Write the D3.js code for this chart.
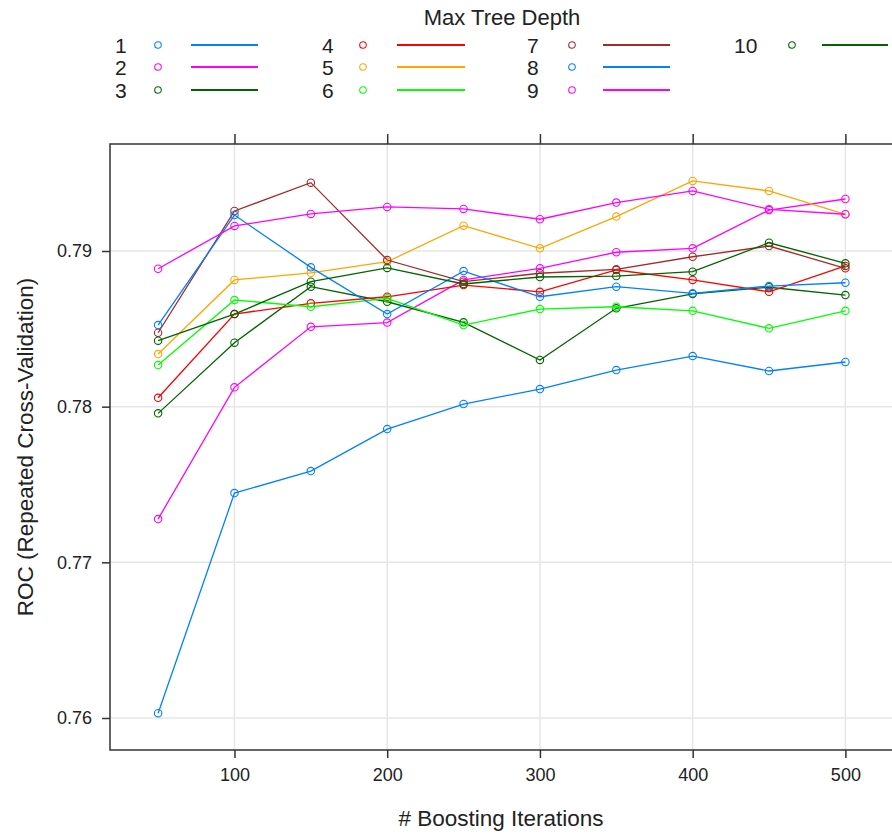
<!DOCTYPE html>
<html>
<head>
<meta charset="utf-8">
<script src="https://cdn.jsdelivr.net/npm/d3@7"></script>
<style>
  body { margin: 0; background: #fff; }
  svg { display: block; font-family: "Liberation Sans", Arial, sans-serif; }
</style>
</head>
<body>
<svg id="chart" width="892" height="834"></svg>
<script>
// boosting iterations on the x axis
var iterations = [50, 100, 150, 200, 250, 300, 350, 400, 450, 500]

// ROC per max tree depth
var depth1  = [0.76031, 0.77445, 0.77586, 0.77856, 0.78017, 0.78113, 0.78235, 0.78325, 0.78229, 0.78287]
var depth2  = [0.77278, 0.78124, 0.78513, 0.78540, 0.78814, 0.78889, 0.78992, 0.79017, 0.79263, 0.79334]
var depth3  = [0.77957, 0.78411, 0.78771, 0.78674, 0.78542, 0.78300, 0.78632, 0.78724, 0.78767, 0.78717]
var depth4  = [0.78057, 0.78595, 0.78664, 0.78706, 0.78781, 0.78738, 0.78878, 0.78814, 0.78738, 0.78904]
var depth5  = [0.78338, 0.78814, 0.78860, 0.78931, 0.79163, 0.79017, 0.79221, 0.79450, 0.79386, 0.79236]
var depth6  = [0.78267, 0.78685, 0.78642, 0.78696, 0.78524, 0.78627, 0.78642, 0.78616, 0.78503, 0.78616]
var depth7  = [0.78475, 0.79257, 0.79439, 0.78942, 0.78803, 0.78857, 0.78882, 0.78963, 0.79032, 0.78889]
var depth8  = [0.78524, 0.79231, 0.78895, 0.78595, 0.78871, 0.78706, 0.78771, 0.78728, 0.78775, 0.78796]
var depth9  = [0.78886, 0.79161, 0.79238, 0.79283, 0.79270, 0.79204, 0.79311, 0.79386, 0.79268, 0.79236]
var depth10 = [0.78424, 0.78595, 0.78803, 0.78891, 0.78788, 0.78833, 0.78839, 0.78867, 0.79053, 0.78921]

var depthLabels = ["1", "2", "3", "4", "5", "6", "7", "8", "9", "10"]
var depthValues = [depth1, depth2, depth3, depth4, depth5, depth6, depth7, depth8, depth9, depth10]

var xTicks = [100, 200, 300, 400, 500]
var yTicks = [0.76, 0.77, 0.78, 0.79]

// lattice superpose colours (recycled after 7)
var palette = ["#0080ff", "#ff00ff", "#006400", "#ff0000", "#ffa500", "#00ff00", "#a52a2a"]

var svg = d3.select("#chart")

// panel box; right edge sits just past the window
// (not called top/left: window.top is read-only)
var pLeft = 110, pTop = 144, pRight = 893.5, pBottom = 750

var x = d3.scaleLinear().domain([18.5, 531.5]).range([pLeft, pRight])
var y = d3.scaleLinear().domain([0.757944, 0.796874]).range([pBottom, pTop])

var series = depthLabels.map(function(lab, i) {
  return {
    label: lab,
    colour: palette[i % palette.length],
    points: iterations.map(function(it, j) { return {it: it, roc: depthValues[i][j]} })
  }
})

// grid lines
var grid = svg.append("g").attr("class", "grid")
grid.selectAll("line.gx").data(xTicks).enter().append("line")
  .attr("x1", d => x(d)).attr("x2", d => x(d))
  .attr("y1", pTop).attr("y2", pBottom)
  .attr("stroke", "#e6e6e6").attr("stroke-width", 1.5)
grid.selectAll("line.gy").data(yTicks).enter().append("line")
  .attr("x1", pLeft).attr("x2", pRight)
  .attr("y1", d => y(d)).attr("y2", d => y(d))
  .attr("stroke", "#e6e6e6").attr("stroke-width", 1.5)

// lines + open circles
var line = d3.line().x(d => x(d.it)).y(d => y(d.roc))

var sg = svg.append("g").attr("class", "series")
  .selectAll("g").data(series).enter().append("g")

sg.append("path")
  .attr("d", d => line(d.points))
  .attr("fill", "none")
  .attr("stroke", d => d.colour)
  .attr("stroke-width", 1.3)

sg.each(function(s) {
  d3.select(this).selectAll("circle").data(s.points).enter().append("circle")
    .attr("cx", d => x(d.it)).attr("cy", d => y(d.roc))
    .attr("r", 3.7)
    .attr("fill", "none")
    .attr("stroke", s.colour)
    .attr("stroke-width", 1.1)
})

// panel frame
svg.append("rect")
  .attr("x", pLeft).attr("y", pTop)
  .attr("width", pRight - pLeft).attr("height", pBottom - pTop)
  .attr("fill", "none").attr("stroke", "#333").attr("stroke-width", 1.5)

// axes
var axisText = function(g) {
  g.select(".domain").remove()
  g.selectAll(".tick line").attr("stroke", "#333").attr("stroke-width", 1.5)
  g.selectAll(".tick text").attr("fill", "#222").style("font-size", "18px")
    .style("font-family", "'Liberation Sans', Arial, sans-serif")
}

svg.append("g")
  .attr("transform", "translate(0," + pBottom + ")")
  .call(d3.axisBottom(x).tickValues(xTicks).tickSize(8).tickPadding(10).tickFormat(d3.format("d")))
  .call(axisText)

svg.append("g")
  .attr("transform", "translate(0," + pTop + ")")
  .call(d3.axisTop(x).tickValues(xTicks).tickSize(10).tickFormat(""))
  .call(axisText)

svg.append("g")
  .attr("transform", "translate(" + pLeft + ",0)")
  .call(d3.axisLeft(y).tickValues(yTicks).tickSize(8).tickPadding(10).tickFormat(d3.format(".2f")))
  .call(axisText)

// axis titles
svg.append("text")
  .attr("x", 501).attr("y", 826)
  .attr("text-anchor", "middle")
  .attr("fill", "#222").style("font-size", "22.5px")
  .text("# Boosting Iterations")

svg.append("text")
  .attr("transform", "translate(33," + ((pTop + pBottom) / 2) + ") rotate(-90)")
  .attr("text-anchor", "middle")
  .attr("fill", "#222").style("font-size", "22.5px")
  .text("ROC (Repeated Cross-Validation)")

// legend: 4 columns, 3 rows
svg.append("text")
  .attr("x", 502).attr("y", 25)
  .attr("text-anchor", "middle")
  .attr("fill", "#222").style("font-size", "22px")
  .text("Max Tree Depth")

var colText = [115, 322, 527, 734]
var colKey = [158, 363, 572, 792]
var colLine = [[191, 258], [397, 465], [603, 670], [822, 888]]
var rowY = [45, 67, 90]

var leg = svg.append("g").attr("class", "legend")
  .selectAll("g").data(series).enter().append("g")
  .attr("transform", function(d, i) {
    return "translate(0," + rowY[i % 3] + ")"
  })

leg.append("text")
  .attr("x", (d, i) => colText[Math.floor(i / 3)]).attr("y", 7.5)
  .attr("fill", "#222").style("font-size", "21px")
  .text(d => d.label)

leg.append("circle")
  .attr("cx", (d, i) => colKey[Math.floor(i / 3)]).attr("cy", 0).attr("r", 3.3)
  .attr("fill", "none").attr("stroke", d => d.colour).attr("stroke-width", 1.1)

leg.append("line")
  .attr("x1", (d, i) => colLine[Math.floor(i / 3)][0])
  .attr("x2", (d, i) => colLine[Math.floor(i / 3)][1])
  .attr("y1", 0).attr("y2", 0)
  .attr("stroke", d => d.colour).attr("stroke-width", 1.8)
</script>
</body>
</html>
